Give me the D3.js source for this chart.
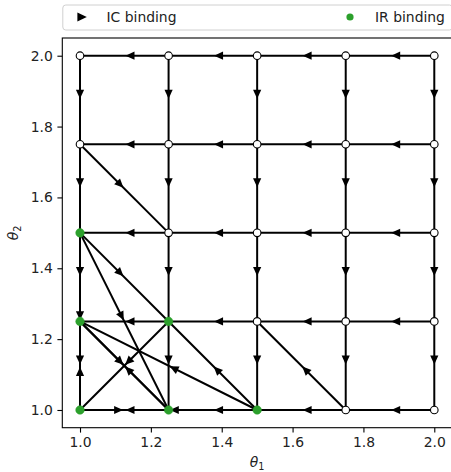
<!DOCTYPE html>
<html>
<head>
<meta charset="utf-8">
<script src="https://cdn.jsdelivr.net/npm/d3@7"></script>
<style>
  body { margin: 0; background: #fff; }
  svg { display: block; font-family: "DejaVu Sans", sans-serif; }
</style>
</head>
<body>
<div id="chart"></div>
<script>
const theta1 = [1.0, 1.25, 1.5, 1.75, 2.0];
const theta2 = [1.0, 1.25, 1.5, 1.75, 2.0];
const xTicks = [1.0, 1.2, 1.4, 1.6, 1.8, 2.0];
const yTicks = [1.0, 1.2, 1.4, 1.6, 1.8, 2.0];

// IR binding nodes [theta1, theta2]
const irBinding = [[1, 1.5], [1, 1.25], [1, 1], [1.25, 1.25], [1.25, 1], [1.5, 1]];

// IC binding edges: [from, to]
const edges = [
  [[1.25, 2], [1, 2]], [[1.5, 2], [1.25, 2]], [[1.75, 2], [1.5, 2]], [[2, 2], [1.75, 2]],
  [[1.25, 1.75], [1, 1.75]], [[1.5, 1.75], [1.25, 1.75]], [[1.75, 1.75], [1.5, 1.75]], [[2, 1.75], [1.75, 1.75]],
  [[1.25, 1.5], [1, 1.5]], [[1.5, 1.5], [1.25, 1.5]], [[1.75, 1.5], [1.5, 1.5]], [[2, 1.5], [1.75, 1.5]],
  [[1.25, 1.25], [1, 1.25]], [[1.5, 1.25], [1.25, 1.25]], [[1.75, 1.25], [1.5, 1.25]], [[2, 1.25], [1.75, 1.25]],
  [[1.25, 1], [1, 1]], [[1.5, 1], [1.25, 1]], [[1.75, 1], [1.5, 1]], [[2, 1], [1.75, 1]],
  [[1, 1], [1.25, 1]], [[1.5, 1], [1, 1]],
  [[1, 2], [1, 1.75]], [[1, 1.75], [1, 1.5]], [[1, 1.5], [1, 1.25]], [[1, 1.25], [1, 1]],
  [[1.25, 2], [1.25, 1.75]], [[1.25, 1.75], [1.25, 1.5]], [[1.25, 1.5], [1.25, 1.25]], [[1.25, 1.25], [1.25, 1]],
  [[1.5, 2], [1.5, 1.75]], [[1.5, 1.75], [1.5, 1.5]], [[1.5, 1.5], [1.5, 1.25]], [[1.5, 1.25], [1.5, 1]],
  [[1.75, 2], [1.75, 1.75]], [[1.75, 1.75], [1.75, 1.5]], [[1.75, 1.5], [1.75, 1.25]], [[1.75, 1.25], [1.75, 1]],
  [[2, 2], [2, 1.75]], [[2, 1.75], [2, 1.5]], [[2, 1.5], [2, 1.25]], [[2, 1.25], [2, 1]],
  [[1, 1], [1, 1.25]], [[1, 1.5], [1, 1]],
  [[1, 1.75], [1.25, 1.5]],
  [[1, 1.5], [1.25, 1.25]],
  [[1, 1.5], [1.25, 1]],
  [[1.5, 1], [1.25, 1.25]],
  [[1.5, 1], [1, 1.25]],
  [[1, 1.25], [1.25, 1]],
  [[1.25, 1], [1, 1.25]],
  [[1.25, 1.25], [1, 1]],
  [[1.75, 1], [1.5, 1.25]],
];

const width = 451;
const height = 472;
const margin = { left: 62.3, right: 452, top: 38, bottom: 427.7 };

const svg = d3.select('#chart').append('svg')
  .attr('width', width)
  .attr('height', height);

const x = d3.scaleLinear().domain([0.95, 2.05]).range([margin.left, margin.right]);
const y = d3.scaleLinear().domain([0.95, 2.05]).range([margin.bottom, margin.top]);

const isIR = p => irBinding.some(q => q[0] === p[0] && q[1] === p[1]);
const nodes = [];
theta2.forEach(t2 => theta1.forEach(t1 => nodes.push([t1, t2])));

const plot = svg.append('g');

plot.selectAll('.edge')
  .data(edges)
  .enter().append('line')
  .attr('class', 'edge')
  .attr('x1', d => x(d[0][0]))
  .attr('y1', d => y(d[0][1]))
  .attr('x2', d => x(d[1][0]))
  .attr('y2', d => y(d[1][1]))
  .attr('stroke', '#000')
  .attr('stroke-width', 2);

plot.selectAll('.head')
  .data(edges)
  .enter().append('path')
  .attr('class', 'head')
  .attr('d', 'M-1.2,0 L-10.2,-4.1 L-10.2,4.1 Z')
  .attr('fill', '#000')
  .attr('transform', (d) => {
    const x0 = x(d[0][0]), y0 = y(d[0][1]);
    const x1 = x(d[1][0]), y1 = y(d[1][1]);
    const a = Math.atan2(y1 - y0, x1 - x0) * 180 / Math.PI;
    return `translate(${(x0 + x1) / 2},${(y0 + y1) / 2}) rotate(${a})`;
  });

plot.selectAll('.node')
  .data(nodes)
  .enter().append('circle')
  .attr('class', 'node')
  .attr('cx', d => x(d[0]))
  .attr('cy', d => y(d[1]))
  .attr('r', d => (isIR(d) ? 4.3 : 3.8))
  .attr('fill', d => (isIR(d) ? '#2ca02c' : '#fff'))
  .attr('stroke', d => (isIR(d) ? '#2ca02c' : '#000'))
  .attr('stroke-width', d => (isIR(d) ? 0.5 : 1.1));

const xAxis = d3.axisBottom(x)
  .tickValues(xTicks)
  .tickFormat(d3.format('.1f'))
  .tickSize(4.9)
  .tickSizeOuter(0)
  .tickPadding(4.6);

const yAxis = d3.axisLeft(y)
  .tickValues(yTicks)
  .tickFormat(d3.format('.1f'))
  .tickSize(4.9)
  .tickSizeOuter(0)
  .tickPadding(4.6);

const gx = svg.append('g')
  .attr('transform', `translate(0,${margin.bottom})`)
  .call(xAxis);
const gy = svg.append('g')
  .attr('transform', `translate(${margin.left},0)`)
  .call(yAxis);

[gx, gy].forEach((g) => {
  g.select('.domain').remove();
  g.selectAll('line').attr('stroke', '#000').attr('stroke-width', 1.1);
  g.selectAll('text')
    .attr('fill', '#222')
    .style('font-size', '13.9px')
    .style('font-family', '"DejaVu Sans", sans-serif');
});

svg.append('rect')
  .attr('x', margin.left)
  .attr('y', margin.top)
  .attr('width', margin.right - margin.left)
  .attr('height', margin.bottom - margin.top)
  .attr('fill', 'none')
  .attr('stroke', '#000')
  .attr('stroke-width', 1.1);

const xLabel = svg.append('text')
  .attr('x', (margin.left + margin.right) / 2)
  .attr('y', 467)
  .attr('text-anchor', 'middle')
  .attr('fill', '#222')
  .style('font-size', '13.9px');
xLabel.append('tspan').style('font-style', 'italic').text('θ');
xLabel.append('tspan').attr('dy', 3).style('font-size', '9.7px').text('1');

const yLabel = svg.append('text')
  .attr('transform', `translate(18,${(margin.top + margin.bottom) / 2}) rotate(-90)`)
  .attr('text-anchor', 'middle')
  .attr('fill', '#222')
  .style('font-size', '13.9px');
yLabel.append('tspan').style('font-style', 'italic').text('θ');
yLabel.append('tspan').attr('dy', 3).style('font-size', '9.7px').text('2');

const legend = svg.append('g');
legend.append('rect')
  .attr('x', margin.left + 0.5)
  .attr('y', 5)
  .attr('width', margin.right - margin.left)
  .attr('height', 25)
  .attr('rx', 3)
  .attr('fill', '#fff')
  .attr('fill-opacity', 0.8)
  .attr('stroke', '#d0d0d0')
  .attr('stroke-width', 1);

legend.append('path')
  .attr('d', 'M-4.6,-4.6 L4.8,0 L-4.6,4.6 Z')
  .attr('transform', 'translate(82,17)')
  .attr('fill', '#000');
legend.append('text')
  .attr('x', 106.5)
  .attr('y', 22)
  .attr('fill', '#222')
  .style('font-size', '13.9px')
  .text('IC binding');

legend.append('circle')
  .attr('cx', 350)
  .attr('cy', 17)
  .attr('r', 3.6)
  .attr('fill', '#2ca02c');
legend.append('text')
  .attr('x', 375)
  .attr('y', 22)
  .attr('fill', '#222')
  .style('font-size', '13.9px')
  .text('IR binding');
</script>
</body>
</html>
